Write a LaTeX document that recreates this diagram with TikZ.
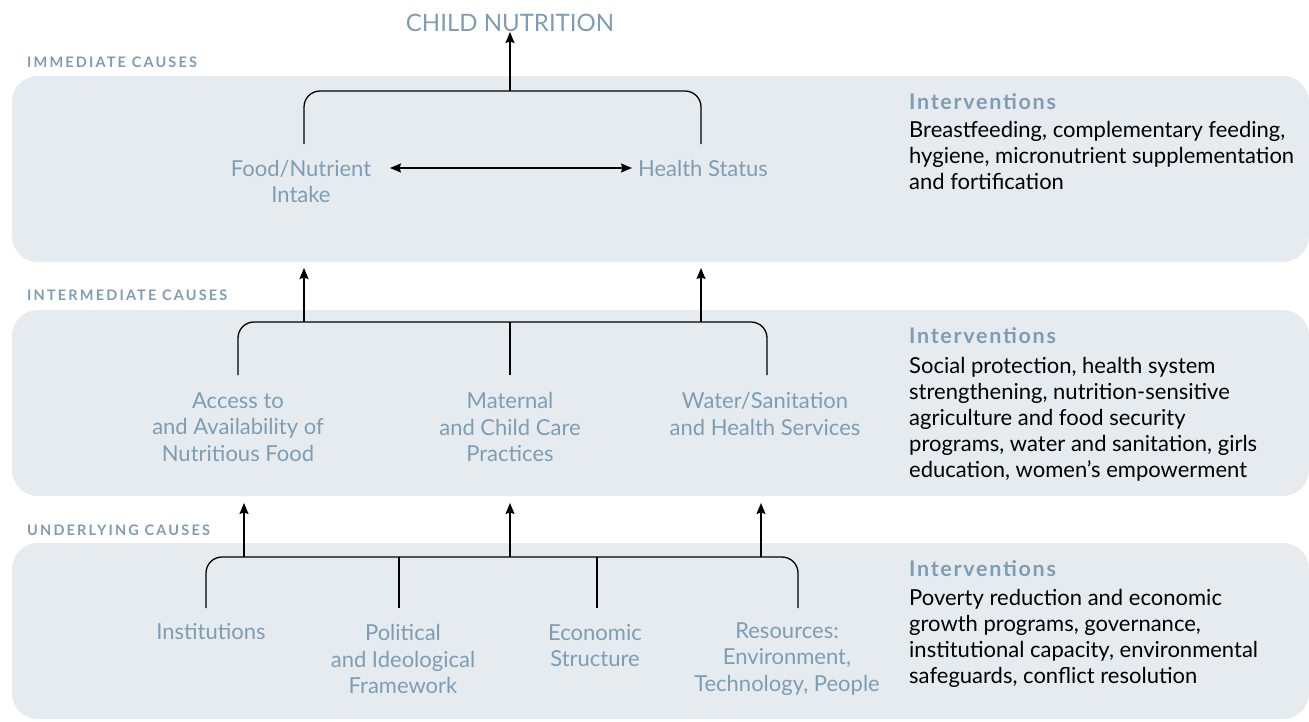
\documentclass[tikz,border=0pt]{standalone}
\usepackage{fontspec}
\setmainfont{Lato}
\newfontfamily\headfont[LetterSpace=8]{Lato}
\newfontfamily\causefont[LetterSpace=15]{Lato}
\usetikzlibrary{arrows.meta}
\definecolor{panelc}{HTML}{E6EBEF}
\definecolor{labc}{HTML}{7E9DB3}
\definecolor{headc}{HTML}{7E9DB3}
\tikzset{
  panel/.style={fill=panelc, rounded corners=26pt},
  lab/.style={text=labc, font=\fontsize{22}{26.5}\selectfont, align=center, inner sep=0pt},
  cause/.style={text=headc, font=\causefont\bfseries\fontsize{14.5}{16}\selectfont, anchor=west, inner sep=0pt},
  ihead/.style={text=headc, font=\headfont\bfseries\fontsize{21.5}{24}\selectfont, anchor=west, inner sep=0pt},
  ibody/.style={text=black, font=\fontsize{22}{26}\selectfont, align=left, anchor=north west, inner sep=0pt},
  conn/.style={line width=1.3pt, rounded corners=16pt},
  arr/.style={line width=1.3pt, -{Stealth[length=11pt,width=9pt,inset=1.5pt]}},
  darr/.style={line width=1.3pt, {Stealth[length=11pt,width=9pt,inset=1.5pt]}-{Stealth[length=11pt,width=9pt,inset=1.5pt]}}
}
\begin{document}
\begin{tikzpicture}[x=1pt,y=-1pt]
\useasboundingbox (0,0) rectangle (1309,721);
% panels
\fill[panel] (12,76) rectangle (1309,262);
\fill[panel] (12,310) rectangle (1309,496);
\fill[panel] (12,543) rectangle (1309,719);
% cause labels
\node[cause] (l1) at (27,62) {IMMEDIATE CAUSES};
\node[cause] (l2) at (27,295) {INTERMEDIATE CAUSES};
\node[cause] (l3) at (27,530) {UNDERLYING CAUSES};
% title
\node[lab, font=\fontsize{24}{28}\selectfont] (cn) at (510,23) {CHILD NUTRITION};
% immediate
\node[lab] (food) at (301,181.5) {Food/Nutrient\\Intake};
\node[lab] (health) at (703,168) {Health Status};
\coordinate (fl) at (390,168);
\coordinate (hr) at (632,168);
\draw[darr] (fl) -- (hr);
\coordinate (t1) at (304,144);
\coordinate (t2) at (701,144);
\coordinate (tm) at (510,91);
\draw[conn] (t1) |- (tm) -| (t2);
\draw[arr] (tm) -- (cn.south);
% intermediate
\node[lab] (acc) at (238,427) {Access to\\and Availability of\\Nutritious Food};
\node[lab] (mat) at (510,427) {Maternal\\and Child Care\\Practices};
\node[lab] (wat) at (765,414) {Water/Sanitation\\and Health Services};
\coordinate (m1) at (238,375);
\coordinate (m2) at (510,375);
\coordinate (m3) at (767,375);
\coordinate (mm) at (510,322);
\coordinate (ma) at (304,322);
\coordinate (mb) at (701,322);
\coordinate (ta) at (304,268);
\coordinate (tb) at (701,268);
\draw[conn] (m1) |- (mm) -| (m3);
\draw[line width=1.3pt] (m2) -- (mm);
\draw[arr] (ma) -- (ta);
\draw[arr] (mb) -- (tb);
% underlying
\node[lab] (inst) at (211,632) {Institutions};
\node[lab] (pol) at (403,659) {Political\\and Ideological\\Framework};
\node[lab] (eco) at (595,645.5) {Economic\\Structure};
\node[lab] (res) at (787,659) {Resources:\\Environment,\\Technology, People};
\coordinate (u1) at (206,608);
\coordinate (u2) at (399,608);
\coordinate (u3) at (597,608);
\coordinate (u4) at (798,608);
\coordinate (um) at (510,557);
\coordinate (ua) at (244,557);
\coordinate (ub) at (761,557);
\coordinate (ba) at (244,503);
\coordinate (bm) at (510,503);
\coordinate (bb) at (761,503);
\draw[conn] (u1) |- (um) -| (u4);
\draw[line width=1.3pt] (u2) -- (399,557);
\draw[line width=1.3pt] (u3) -- (597,557);
\draw[arr] (ua) -- (ba);
\draw[arr] (um) -- (bm);
\draw[arr] (ub) -- (bb);
% interventions
\node[ihead] (h1) at (909,102) {Interventions};
\node[ibody] (b1) at (909,121) {Breastfeeding, complementary feeding,\\hygiene, micronutrient supplementation\\and fortification};
\node[ihead] (h2) at (909,336) {Interventions};
\node[ibody] (b2) at (909,357) {Social protection, health system\\strengthening, nutrition-sensitive\\agriculture and food security\\programs, water and sanitation, girls\\education, women’s empowerment};
\node[ihead] (h3) at (909,569) {Interventions};
\node[ibody] (b3) at (909,589) {Poverty reduction and economic\\growth programs, governance,\\institutional capacity, environmental\\safeguards, conflict resolution};
\end{tikzpicture}
\end{document}
